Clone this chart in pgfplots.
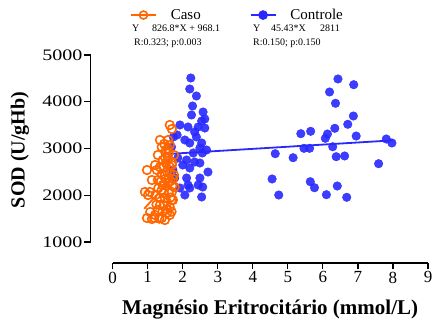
\documentclass[border=0pt]{standalone}
\usepackage{pgfplots}
\pgfplotsset{compat=1.18}
\usepackage{fontspec}
\setmainfont{Liberation Serif}
\newfontfamily\ytickfont[FakeStretch=1.25]{Liberation Serif}
\definecolor{caso}{RGB}{255,102,0}
\definecolor{ctrl}{RGB}{40,40,255}
\begin{document}
\begin{tikzpicture}
\useasboundingbox (0,0) rectangle (441pt,329pt);
\begin{axis}[
  at={(90.7pt,66pt)}, anchor=south west,
  scale only axis, width=337.3pt, height=208pt,
  xmin=-0.627, xmax=9, ymin=551, ymax=5000,
  axis x line*=bottom, axis y line*=left,
  axis line style={draw=none},
  xtick={0,1,...,9}, ytick={1000,2000,3000,4000,5000},
  tick align=outside, major tick length=6.5pt,
  every tick/.style={black, line width=1.2pt},
  /pgf/number format/assume math mode=true,
  /pgf/number format/1000 sep={},
  xticklabel style={font=\fontsize{17}{17}\selectfont, inner sep=2pt},
  yticklabel style={font=\ytickfont\fontsize{16}{16}\selectfont, inner sep=1.5pt},
  xlabel={\textbf{Magnésio Eritrocitário (mmol/L)}},
  ylabel={\textbf{SOD (U/gHb)}},
  xlabel style={font=\fontsize{21}{21}\selectfont, at={(axis description cs:0.532,-0.226)}, anchor=center},
  ylabel style={font=\fontsize{20}{20}\selectfont, at={(axis description cs:-0.21,0.543)}, anchor=center},
  clip=false,
  legend style={at={(axis description cs:0.1165,1.192)}, anchor=west, draw=none, fill=none,
    inner sep=0pt, legend columns=2, font=\fontsize{15}{15}\selectfont,
    nodes={inner sep=0pt},
    /tikz/every odd column/.append style={column sep=14pt},
    /tikz/every even column/.append style={column sep=49pt}},
  legend cell align=left,
  legend image code/.code={\draw[mark repeat=2,mark phase=2,#1] plot coordinates {(0pt,0pt) (12.5pt,0pt) (25pt,0pt)};},
]
\addlegendimage{caso, line width=1.6pt, mark=o, mark size=4pt, mark options={line width=1.6pt}}
\addlegendentry{Caso}
\addlegendimage{ctrl, line width=1.6pt, mark=*, mark size=4pt}
\addlegendentry{Controle}

% Controle
\addplot[forget plot, only marks, mark=*, mark size=4.3pt, color=ctrl, mark options={fill=ctrl, draw=none, opacity=0.9}] coordinates {
(2.23,4508) (2.20,4273) (2.39,4123) (2.28,3909) (2.25,3717) (2.58,3781)
(2.63,3631) (2.54,3588) (2.15,3460) (2.44,3460) (2.63,3438) (2.34,3353)
(1.84,3289) (1.73,3246) (2.39,3246) (2.20,3118) (2.54,3118) (1.68,3032)
(2.49,3011) (2.56,2904) (2.68,2968) (2.30,2904) (2.11,2754) (2.20,2583)
(2.72,2497) (1.77,2369) (2.11,2369) (2.49,2369) (2.15,2219) (2.44,2219)
(2.06,2005) (2.54,1963) (2.20,2155) (2.00,2647) (1.86,2797) (2.34,2711)
(1.72,2540) (1.92,2155) (2.57,2176) (2.06,3182) (1.92,3503) (2.49,2690)
(6.43,4487) (6.88,4365) (6.19,4209) (6.36,3967) (6.87,3695) (6.71,3518)
(5.37,3317) (5.65,3368) (6.34,3432) (6.13,3310) (6.07,3218) (6.95,3267)
(7.81,3203) (7.97,3118) (4.64,2889) (5.15,2803) (5.46,3004) (5.62,3004)
(6.28,3038) (6.38,2825) (6.62,2840) (7.59,2675) (4.55,2348) (4.74,2005)
(5.64,2290) (5.76,2161) (6.41,2198) (6.10,2012) (6.68,1956)
};
\addplot[forget plot, ctrl, line width=1.8pt] coordinates {(1.6,2883.7) (8.0,3174.4)};
% Caso
\addplot[forget plot, caso, line width=1.8pt] coordinates {(0.9,1712.2) (1.75,2415.0)};
\addplot[forget plot, only marks, mark=o, mark size=4.3pt, color=caso, mark options={line width=1.6pt}] coordinates {
(1.63,3503) (1.69,3417) (1.40,3032) (1.52,2968) (1.63,3075) (0.98,2540)
(1.12,2326) (0.92,2070) (1.06,2070) (0.98,1513) (1.12,1492) (1.40,1513)
(1.55,1620) (1.29,1684) (1.72,1898) (1.77,2176) (1.63,2476) (1.35,2604)
(1.43,2754) (1.58,2797) (1.29,2861) (1.69,2647) (1.49,2433) (1.29,2326)
(1.58,2262) (1.40,2112) (1.69,2070) (1.23,2005) (1.49,1941) (1.35,1791)
(1.63,1749) (1.21,1578) (1.49,1470) (1.26,2540) (1.43,2219) (1.60,2369)
(1.35,1941) (1.01,2005) (1.21,2647) (1.52,2690) (1.75,2861) (1.35,3182)
(1.58,3182) (1.75,2433) (1.07,1642) (1.63,1578) (1.46,1791) (1.69,1898)
(1.55,2500) (1.65,2300) (1.70,2200) (1.45,2600) (1.50,2350) (1.60,2050)
(1.55,1850) (1.65,1950) (1.40,2450) (1.45,2050) (1.70,2700) (1.60,2900)
(1.50,2800) (1.38,2300) (1.62,2620) (1.72,2350) (1.30,2150) (1.55,1700)
(1.68,1650) (1.42,1650) (1.25,1800) (1.18,1520) (1.33,1500) (1.57,3000)
(1.47,3100)
};
\draw[black, line width=1.4pt] (axis cs:0,551) -- (axis cs:9,551);
\draw[black, line width=1.4pt] (axis cs:-0.627,1000) -- (axis cs:-0.627,5000);
\end{axis}
\begin{scope}[every node/.style={anchor=west, inner sep=0pt, font=\fontsize{10}{10}\selectfont}]
\node at (132pt,301pt) {Y};
\node at (152pt,301pt) {826.8*X + 968.1};
\node at (134pt,286pt) {R:0.323; p:0.003};
\node at (253pt,301pt) {Y};
\node at (271pt,301pt) {45.43*X};
\node at (320pt,301pt) {2811};
\node at (253pt,286pt) {R:0.150; p:0.150};
\end{scope}
\end{tikzpicture}
\end{document}
